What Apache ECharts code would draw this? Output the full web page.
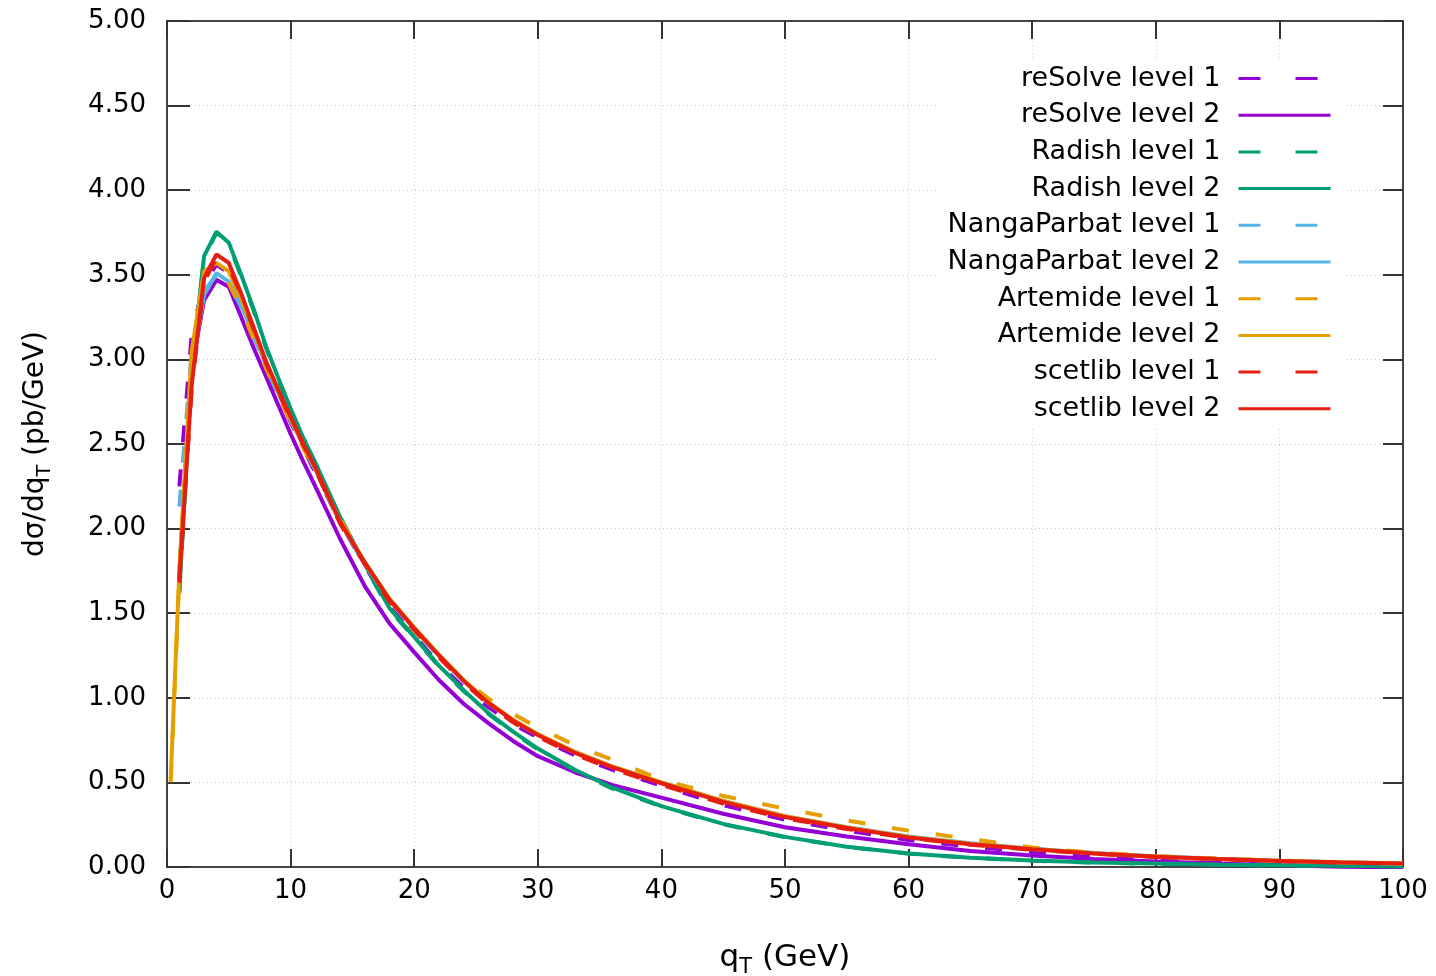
<!DOCTYPE html>
<html>
<head>
<meta charset="UTF-8">
<title>qT distribution</title>
<script src="https://cdn.jsdelivr.net/npm/echarts@6/dist/echarts.min.js"></script>
<style>
  html, body { margin: 0; padding: 0; background: #fff; }
  #main { width: 1436px; height: 976px; }
</style>
</head>
<body>
<div id="main"></div>
<script type="text/javascript">
// qT grid (GeV)
var qT = [1,2,3,4,5,6,7,8,9,10,11,12,14,16,18,20,22,24,26,28,30,33,36,40,45,50,55,60,65,70,75,80,85,90,95,100];
// Artemide starts a bit earlier
var qTArtemide = [0.3,1,2,3,4,5,6,7,8,9,10,11,12,14,16,18,20,22,24,26,28,30,33,36,40,45,50,55,60,65,70,75,80,85,90,95,100];

var resolveL1 = [2.25,3.15,3.45,3.56,3.51,3.34,3.15,2.96,2.79,2.63,2.48,2.33,2.04,1.78,1.54,1.37,1.20,1.06,0.945,0.845,0.765,0.66,0.575,0.48,0.365,0.28,0.215,0.16,0.12,0.09,0.067,0.048,0.034,0.024,0.016,0.01];
var resolveL2 = [1.72,2.95,3.35,3.47,3.43,3.25,3.07,2.90,2.73,2.56,2.40,2.25,1.94,1.66,1.44,1.27,1.105,0.965,0.85,0.745,0.655,0.56,0.485,0.41,0.315,0.235,0.18,0.135,0.095,0.068,0.048,0.032,0.02,0.01,0.002,-0.003];
var radishL1 = [1.62,2.94,3.60,3.75,3.68,3.49,3.29,3.07,2.88,2.70,2.53,2.38,2.06,1.78,1.52,1.355,1.185,1.04,0.905,0.795,0.695,0.57,0.465,0.357,0.252,0.176,0.119,0.079,0.054,0.037,0.026,0.019,0.013,0.009,0.006,0.004];
var radishL2 = [1.63,2.95,3.61,3.755,3.69,3.50,3.30,3.08,2.89,2.71,2.54,2.39,2.07,1.79,1.53,1.36,1.19,1.045,0.91,0.80,0.70,0.575,0.47,0.36,0.255,0.178,0.12,0.08,0.055,0.038,0.027,0.02,0.014,0.01,0.007,0.005];
var npL1 = [2.13,3.05,3.40,3.50,3.45,3.31,3.14,2.96,2.79,2.64,2.49,2.345,2.035,1.795,1.575,1.405,1.245,1.095,0.968,0.864,0.78,0.677,0.592,0.498,0.388,0.298,0.233,0.178,0.138,0.107,0.082,0.062,0.048,0.036,0.027,0.02];
var npL2 = [1.75,2.95,3.38,3.51,3.46,3.32,3.15,2.97,2.80,2.645,2.495,2.35,2.04,1.80,1.58,1.41,1.25,1.10,0.972,0.868,0.783,0.68,0.595,0.50,0.39,0.30,0.235,0.18,0.14,0.108,0.083,0.063,0.049,0.037,0.028,0.021];
var artemideL1 = [0.50,1.72,3.00,3.45,3.49,3.45,3.30,3.12,2.95,2.79,2.63,2.48,2.34,2.06,1.80,1.58,1.41,1.245,1.11,0.995,0.905,0.825,0.72,0.635,0.515,0.42,0.345,0.275,0.215,0.165,0.115,0.085,0.065,0.05,0.038,0.028,0.02];
var artemideL2 = [0.52,1.75,3.05,3.52,3.57,3.52,3.36,3.17,2.98,2.81,2.65,2.50,2.355,2.045,1.80,1.585,1.415,1.255,1.105,0.975,0.87,0.785,0.68,0.595,0.50,0.39,0.30,0.234,0.178,0.137,0.106,0.081,0.061,0.048,0.037,0.028,0.021];
var scetlibL1 = [1.68,2.83,3.46,3.60,3.55,3.38,3.18,2.98,2.81,2.65,2.50,2.35,2.03,1.79,1.57,1.40,1.24,1.09,0.96,0.855,0.77,0.665,0.58,0.485,0.375,0.288,0.225,0.172,0.132,0.102,0.078,0.059,0.046,0.035,0.026,0.019];
var scetlibL2 = [1.70,2.85,3.48,3.62,3.57,3.39,3.19,2.99,2.82,2.66,2.505,2.36,2.04,1.80,1.58,1.41,1.25,1.10,0.97,0.865,0.78,0.675,0.59,0.495,0.385,0.295,0.23,0.175,0.135,0.105,0.08,0.06,0.047,0.036,0.027,0.02];

var FONT = 'DejaVu Sans';
var DASH = [17, 27];

function pairs(xs, ys) {
  var out = [];
  for (var i = 0; i < ys.length; i++) out.push([xs[i], ys[i]]);
  return out;
}

function line(name, xs, ys, color, dashed) {
  return {
    name: name,
    type: 'line',
    xAxisIndex: 0,
    yAxisIndex: 0,
    symbol: 'none',
    data: pairs(xs, ys),
    lineStyle: { color: color, width: 4, type: dashed ? DASH : 'solid', cap: 'butt' },
    itemStyle: { color: color },
    emphasis: { disabled: true }
  };
}

var series = [
  line('reSolve level 1', qT, resolveL1, '#9400d3', true),
  line('reSolve level 2', qT, resolveL2, '#9400d3', false),
  line('Radish level 1', qT, radishL1, '#009e73', true),
  line('Radish level 2', qT, radishL2, '#009e73', false),
  line('NangaParbat level 1', qT, npL1, '#56b4e9', true),
  line('NangaParbat level 2', qT, npL2, '#56b4e9', false),
  line('Artemide level 1', qTArtemide, artemideL1, '#e69f00', true),
  line('Artemide level 2', qTArtemide, artemideL2, '#e69f00', false),
  line('scetlib level 1', qT, scetlibL1, '#e51e10', true),
  line('scetlib level 2', qT, scetlibL2, '#e51e10', false)
];

// legend keys: line only, no marker in the middle
var legendData = series.map(function (s, i) {
  return {
    name: s.name,
    itemStyle: { color: 'rgba(0,0,0,0)', borderColor: 'rgba(0,0,0,0)', borderWidth: 0, opacity: 0 },
    lineStyle: { type: (i % 2 === 0) ? [22, 35] : 'solid', width: 3 }
  };
});

var axisLineStyle = { color: '#444', width: 2 };
var tickStyle = { color: '#333', width: 2 };
var gridLine = { show: true, lineStyle: { color: '#c8c8c8', type: [1, 3], width: 1 } };

var myChart = echarts.init(document.getElementById('main'));
var option = {
  animation: false,
  backgroundColor: '#fff',
  textStyle: { fontFamily: FONT },
  grid: { left: 167, right: 33, top: 21, bottom: 109, containLabel: false, outerBoundsMode: 'none' },
  legend: {
    orient: 'vertical',
    right: 91,
    top: 58,
    align: 'right',
    itemWidth: 92,
    itemHeight: 26,
    itemGap: 9.7,
    padding: [7, 13, 5, 10],
    backgroundColor: '#fff',
    selectedMode: false,
    data: legendData,
    textStyle: { fontFamily: FONT, fontSize: 27, color: '#000', padding: [0, 13, 0, 0] }
  },
  xAxis: [{
    type: 'value',
    position: 'bottom',
    min: 0, max: 100, interval: 10,
    axisLine: { show: true, onZero: false, lineStyle: axisLineStyle },
    axisTick: { show: true, inside: true, length: 18, lineStyle: tickStyle },
    axisLabel: { fontFamily: FONT, fontSize: 26, color: '#000', margin: 11 },
    splitLine: gridLine,
    name: 'q{sub|T} (GeV)',
    nameLocation: 'middle',
    nameGap: 70,
    nameTextStyle: {
      fontFamily: FONT, fontSize: 31, color: '#000',
      rich: { sub: { fontFamily: FONT, fontSize: 21, color: '#000', verticalAlign: 'top', padding: [20, 0, 0, 0] } }
    }
  }, {
    type: 'value',
    position: 'top',
    min: 0, max: 100, interval: 10,
    axisLine: { show: true, onZero: false, lineStyle: axisLineStyle },
    axisTick: { show: true, inside: true, length: 18, lineStyle: tickStyle },
    axisLabel: { show: false },
    splitLine: { show: false }
  }],
  yAxis: [{
    type: 'value',
    position: 'left',
    min: 0, max: 5, interval: 0.5,
    axisLine: { show: true, onZero: false, lineStyle: axisLineStyle },
    axisTick: { show: true, inside: true, length: 23, lineStyle: tickStyle },
    axisLabel: {
      fontFamily: FONT, fontSize: 26, color: '#000', margin: 21,
      formatter: function (v) { return v.toFixed(2); }
    },
    splitLine: gridLine,
    name: 'dσ/dq{sub|T} (pb/GeV)',
    nameLocation: 'middle',
    nameGap: 112,
    nameTextStyle: {
      fontFamily: FONT, fontSize: 28, color: '#000',
      rich: { sub: { fontFamily: FONT, fontSize: 19, color: '#000', verticalAlign: 'top', padding: [19, 0, 0, 0] } }
    }
  }, {
    type: 'value',
    position: 'right',
    min: 0, max: 5, interval: 0.5,
    axisLine: { show: true, onZero: false, lineStyle: axisLineStyle },
    axisTick: { show: true, inside: true, length: 20, lineStyle: tickStyle },
    axisLabel: { show: false },
    splitLine: { show: false }
  }],
  series: series
};
myChart.setOption(option);
</script>
</body>
</html>
